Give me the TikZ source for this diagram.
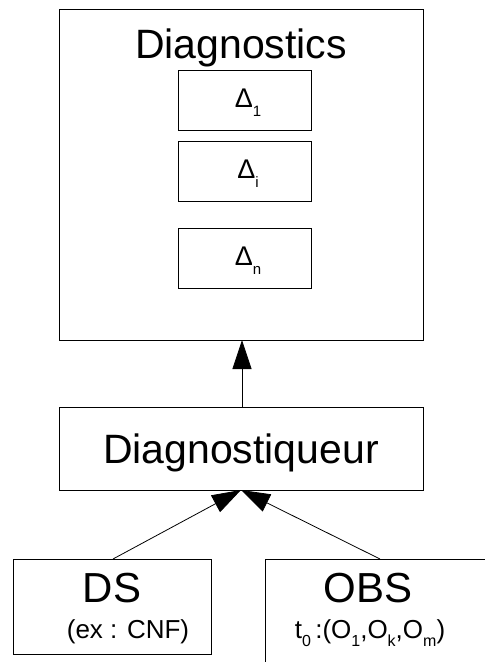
\documentclass[tikz,border=0pt]{standalone}
\usepackage{fontspec}
\setmainfont{Liberation Sans}
\usetikzlibrary{arrows.meta}
\newcommand{\fs}[1]{\fontsize{#1}{#1}\selectfont}
\newcommand{\dsub}[1]{{\fs{27}Δ}\raisebox{-9pt}{\fs{15}#1}}
\begin{document}
\begin{tikzpicture}[x=1pt,y=-1pt,
  frame/.style={draw=black,line width=0.9pt},
  sub/.style={draw=black,line width=0.9pt},
  txt/.style={inner sep=0pt,anchor=base},
  bigtip/.style={-{Triangle[length=29pt,width=19pt]}},
  line width=0.8pt]
\useasboundingbox (0,0) rectangle (485,662);
% Diagnostics
\draw[frame] (59,9) rectangle (423,340);
\node[txt] (diagT) at (241,58) {\fs{41}Diagnostics};
\coordinate (diagB) at (242,340);
\draw[sub] (178,70) rectangle (311,130);
\node (d1) at (248,103) {\dsub{1}};
\draw[sub] (178,141) rectangle (311,201);
\node (di) at (248,174) {\dsub{i}};
\draw[sub] (178,228) rectangle (311,288);
\node (dn) at (248,261) {\dsub{n}};
% Diagnostiqueur
\draw[frame] (59,407) rectangle (423,490);
\node[txt] (dq) at (241,463) {\fs{41}Diagnostiqueur};
\coordinate (dqT) at (242,407);
\coordinate (dqB) at (241,490);
\draw[bigtip] (dqT) -- (diagB);
% DS
\draw[frame] (13,559) rectangle (211,654);
\node[txt] (ds) at (112,602) {\fs{42}DS};
\node[txt] (dsx) at (128,638) {\fs{26}(ex : CNF)};
\coordinate (dsT) at (113,559);
% OBS
\draw[frame] (265,662) -- (265,559) -- (485,559);
\node[txt] (obs) at (368,602) {\fs{42}OBS};
\node[txt] (obsx) at (370,638) {\fs{26}t\raisebox{-8pt}{\fs{16}0}\,:(O\raisebox{-8pt}{\fs{16}1},O\raisebox{-8pt}{\fs{16}k},O\raisebox{-8pt}{\fs{16}m})};
\coordinate (obsT) at (380,559);
\draw[bigtip] (dsT) -- (dqB);
\draw[bigtip] (obsT) -- (dqB);
\end{tikzpicture}
\end{document}
